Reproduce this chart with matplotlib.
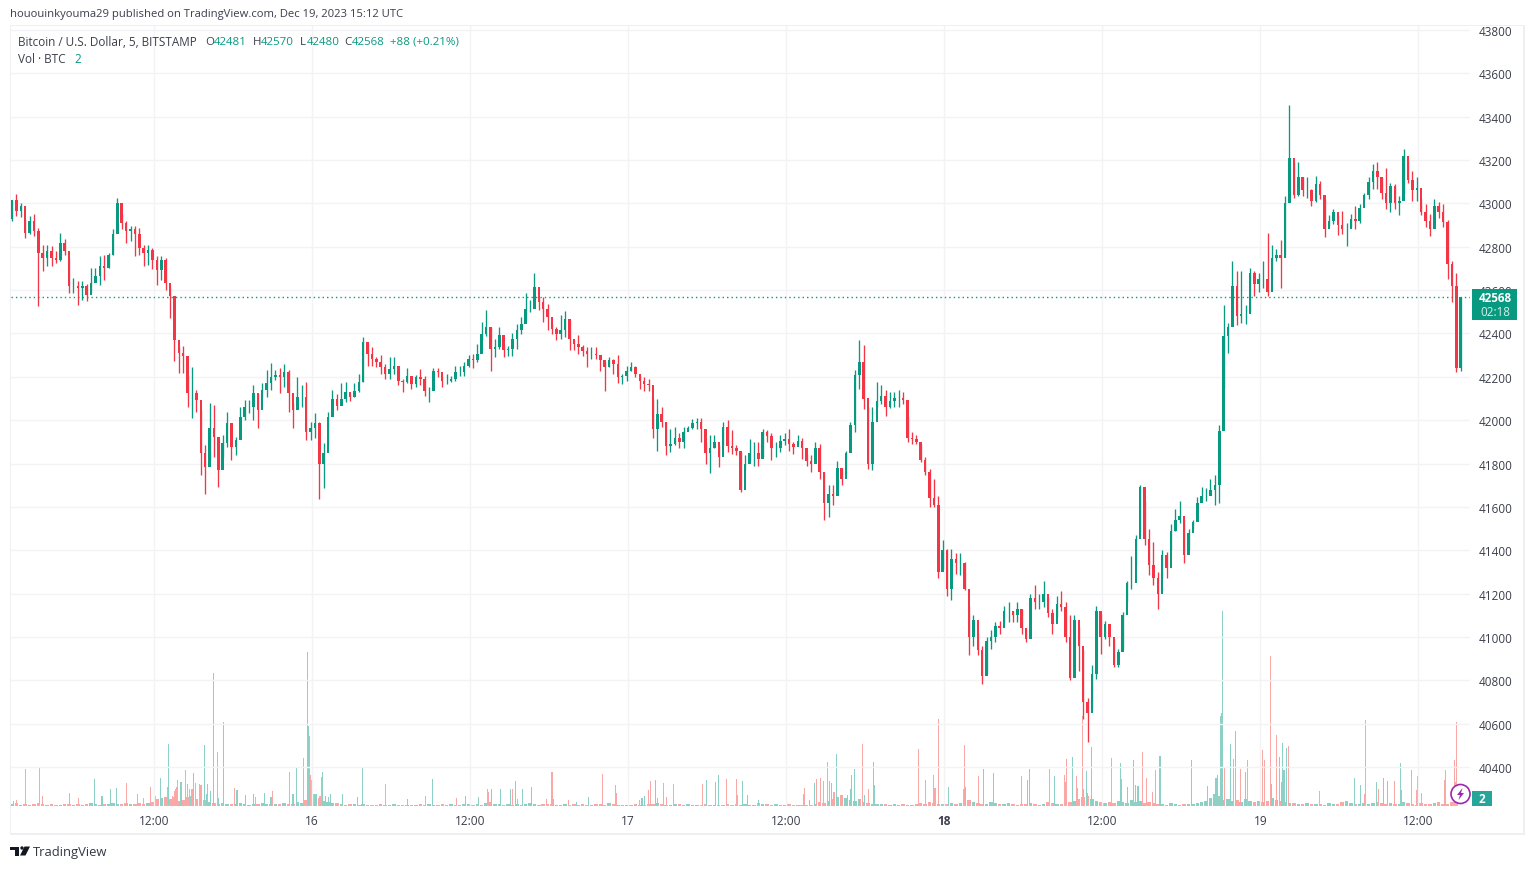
import matplotlib
matplotlib.use("Agg")
import matplotlib.pyplot as plt
from matplotlib.patches import Rectangle, Circle, Polygon
from matplotlib.transforms import IdentityTransform

# ---- data: one entry per 20 minutes of the 5-minute chart (prices)
first_open = 42930
highs = [43018,43042,43003,42926,42944,42950,42887,42810,42810,42803,42780,42864,42834,42749,42656,42641,42641,42630,42702,42702,
 42759,42764,42769,42880,43023,42949,42918,42895,42895,42887,42806,42810,42795,42756,42759,42749,42614,42571,42343,42343,
 42209,42244,42139,42047,41885,42078,42070,41893,41931,42039,41962,41923,42062,42093,42093,42163,42124,42170,42232,42263,
 42232,42240,42260,42232,42078,42201,42163,42178,41993,42032,41993,41893,42040,42140,42121,42172,42175,42121,42172,42214,
 42384,42353,42337,42291,42299,42260,42291,42291,42221,42188,42240,42198,42209,42234,42206,42152,42240,42240,42206,42214,
 42206,42252,42252,42268,42299,42306,42353,42453,42507,42430,42376,42430,42345,42342,42404,42445,42476,42589,42554,42680,
 42569,42569,42538,42445,42430,42484,42503,42461,42376,42391,42345,42337,42337,42337,42299,42268,42291,42283,42299,42214,
 42252,42268,42252,42206,42198,42191,42100,42100,42060,41990,41960,41970,41940,41970,41975,42005,42010,42010,41900,41930,
 41930,41885,41990,42000,41955,41885,41855,41840,41915,41900,41900,41960,41955,41940,41900,41930,41940,41960,41900,41930,
 41920,41845,41838,41900,41890,41760,41700,41700,41810,41775,41860,41990,42230,42370,42345,42060,42060,42175,42160,42140,
 42130,42130,42140,42130,42015,41945,41930,41890,41830,41775,41730,41650,41445,41405,41405,41385,41385,41345,41145,41100,
 41020,40960,41000,41030,41070,41075,41145,41160,41120,41160,41130,41040,41200,41240,41200,41260,41185,41130,41190,41210,
 41160,41100,41100,41045,40940,40720,40870,41145,41105,41075,41045,40990,40945,41115,41260,41375,41470,41700,41625,41500,
 41440,41300,41400,41390,41520,41590,41625,41540,41500,41540,41645,41690,41685,41730,41745,41980,42530,42450,42735,42690,
 42690,42530,42700,42690,42680,42735,42865,42810,42790,42830,43035,43455,43190,43190,43120,43120,43065,43125,43105,43020,
 42945,42975,42945,42965,42910,42950,42990,42995,43050,43120,43180,43190,43120,43165,43095,43090,43035,43250,43195,43150,
 43120,43020,42995,42950,43020,43005,42995,42925,42735,42680,42570]
lows = [42918,42941,42938,42841,42857,42849,42528,42687,42713,42713,42726,42733,42764,42587,42587,42533,42556,42548,42587,42648,
 42625,42648,42702,42760,42911,42880,42818,42826,42759,42764,42713,42718,42698,42625,42648,42602,42471,42271,42217,42217,
 42062,42008,42040,41746,41661,41816,41831,41692,41831,41877,41816,41839,41923,41999,42031,41999,41962,42109,42109,42139,
 42186,42124,42155,42039,41962,42062,42062,41908,41908,41916,41638,41685,41885,42067,42048,42075,42082,42090,42106,42129,
 42175,42252,42252,42245,42214,42191,42191,42214,42160,42129,42172,42144,42152,42160,42113,42082,42152,42198,42152,42167,
 42175,42183,42206,42206,42245,42240,42270,42368,42388,42229,42291,42330,42291,42298,42298,42330,42399,42461,42500,42569,
 42507,42453,42415,42399,42368,42376,42384,42322,42322,42306,42298,42245,42283,42283,42229,42136,42245,42214,42172,42167,
 42183,42229,42198,42144,42136,42136,41920,41857,41970,41840,41855,41885,41870,41870,41955,41960,41960,41900,41800,41755,
 41870,41785,41885,41855,41845,41840,41670,41770,41810,41790,41790,41830,41900,41815,41830,41855,41885,41860,41845,41885,
 41820,41790,41760,41808,41730,41540,41555,41610,41670,41700,41745,41885,41945,42145,42050,41776,41770,42060,42075,42020,
 42055,42060,42060,42075,41900,41890,41890,41805,41745,41600,41600,41270,41315,41190,41170,41290,41285,41215,40915,40960,
 40915,40785,40835,40945,40975,41015,41070,41070,41070,41070,41015,40975,41000,41130,41130,41140,41090,41015,41090,41120,
 40975,40800,40930,40845,40620,40515,40670,40805,40920,40990,40960,40860,40860,40945,41160,41220,41330,41485,41425,41285,
 41240,41130,41270,41270,41400,41490,41525,41340,41400,41500,41575,41630,41625,41655,41610,41620,42150,42310,42465,42440,
 42450,42445,42500,42575,42590,42610,42575,42695,42735,42610,42760,43125,43025,43035,43035,43025,42990,43005,43020,42845,
 42895,42905,42855,42860,42805,42890,42880,42910,43020,43020,43065,43065,43020,42975,42960,42975,42945,43050,43095,43010,
 43010,42945,42890,42850,42910,42935,42890,42650,42545,42220,42225]
closes = [43015,42965,42988,42864,42918,42872,42772,42749,42780,42749,42741,42818,42780,42618,42618,42610,42618,42579,42633,42664,
 42710,42702,42764,42857,43003,42911,42872,42880,42857,42795,42772,42787,42741,42695,42741,42633,42571,42371,42309,42294,
 42124,42124,42093,41847,41785,41962,41924,41769,41893,41985,41877,41908,42016,42062,42062,42124,42047,42139,42170,42201,
 42209,42201,42224,42124,42047,42109,42109,41947,41962,41985,41800,41847,42016,42098,42067,42098,42129,42106,42136,42175,
 42360,42306,42283,42268,42245,42214,42237,42252,42183,42175,42206,42167,42198,42191,42136,42136,42229,42221,42183,42183,
 42190,42221,42221,42252,42283,42276,42306,42399,42430,42330,42337,42391,42322,42330,42376,42415,42445,42515,42515,42615,
 42546,42515,42476,42422,42399,42415,42469,42376,42353,42337,42320,42306,42306,42299,42276,42245,42276,42260,42198,42206,
 42229,42245,42214,42183,42167,42160,41960,42030,41990,41880,41890,41920,41900,41945,41965,41985,41990,41960,41850,41870,
 41900,41830,41970,41880,41870,41860,41680,41800,41850,41850,41820,41945,41925,41870,41870,41905,41915,41890,41875,41905,
 41870,41810,41800,41870,41760,41620,41660,41650,41780,41730,41850,41980,42210,42270,42100,41800,41990,42090,42110,42060,
 42090,42100,42100,42095,41920,41915,41900,41815,41760,41640,41610,41300,41400,41220,41360,41340,41340,41220,41000,41080,
 40940,40820,40980,41000,41050,41040,41120,41120,41100,41130,41040,40990,41180,41160,41160,41200,41110,41060,41150,41140,
 41000,40810,41080,40960,40700,40650,40830,41120,41000,41060,41000,40870,40930,41100,41250,41250,41450,41690,41450,41330,
 41270,41200,41380,41320,41490,41540,41560,41380,41480,41530,41620,41650,41650,41680,41700,41950,42390,42430,42620,42480,
 42490,42490,42680,42630,42650,42650,42590,42750,42760,42750,43000,43210,43040,43120,43060,43060,43010,43090,43040,42880,
 42920,42960,42900,42880,42880,42930,42920,42980,43040,43100,43150,43120,43050,43000,43080,43000,43010,43220,43110,43060,
 43070,42960,42920,42880,42990,42960,42915,42720,42620,42240,42568]

# volume spikes: (5-minute bar number, BTC)
up_bars = [1,75,82,90,95,135,143,154,165,175,177,178,181,184,188,193,205,213,220,230,236,256,259,269,270,271,283,286,288,290,301,315,319,360,383,413,425,437,445,454,459,465,473,493,514,525,574,576,586,588,633,641,644,666,670,680,727,731,745,747,751,761,764,765,768,777,785,786,850,853,869,885,894,925,927,950,966,979,980,984,1010,1011,1016,1022,1024,1026,1046,1075,1089,1097,1098,1101,1102,1103,1110,1115,1124,1148,1155,1157,1158,1159,1161,1223,1229,1243,1250,1253,1265,1266,1281]
up_vols = [10,54,20,34,36,56,124,48,66,122,24,44,30,266,16,168,32,22,24,26,18,24,78,308,160,140,68,20,18,24,24,18,76,14,54,20,18,34,34,34,50,34,38,14,8,18,16,20,52,16,52,48,62,50,22,12,12,46,50,46,104,22,34,62,74,22,88,42,32,38,38,74,66,52,74,60,98,70,26,118,86,54,38,92,42,40,100,92,40,56,62,180,186,390,124,150,68,44,98,48,126,72,116,56,42,48,56,50,86,32,60]
down_bars = [4,12,25,28,52,61,104,114,120,126,131,142,146,148,149,150,151,158,160,162,164,167,171,172,173,187,203,222,237,253,266,272,273,280,281,282,340,377,405,433,434,456,461,487,492,507,538,550,551,572,580,582,594,596,603,629,651,660,661,721,722,733,737,739,743,749,773,775,780,826,832,840,841,844,867,868,881,920,945,959,960,961,970,971,975,976,1002,1030,1034,1039,1042,1105,1113,1119,1126,1139,1141,1147,1152,1163,1191,1232,1233,1245,1260,1275,1280,1284,1305,1306,1314,1315,1316]
down_vols = [12,74,78,20,26,16,46,24,16,38,20,38,20,30,34,38,52,72,44,34,34,46,44,42,42,108,36,18,30,68,96,62,52,20,20,58,44,20,16,34,28,34,14,14,68,12,64,42,26,12,32,50,46,18,44,44,54,54,22,24,36,54,56,50,88,28,12,124,34,114,52,62,36,174,34,122,60,60,74,62,48,94,60,36,180,34,96,108,56,28,72,76,94,74,92,112,92,300,142,120,30,24,172,34,50,72,32,26,52,72,92,48,168]

# smaller volume, one value per 20 minutes
vol_base = [4,6,3,5,3,4,6,4,3,5,2,3,4,5,3,4,3,5,6,4,3,5,4,6,4,5,7,5,4,6,
 5,6,9,14,16,18,14,18,10,12,18,20,14,16,12,8,6,5,6,4,4,5,6,4,3,4,5,6,4,5,
 4,5,6,4,5,8,6,12,18,24,16,10,8,6,6,4,3,5,4,3,4,3,2,3,4,3,3,4,2,3,
 3,2,3,4,3,4,2,3,4,3,4,3,3,4,5,3,4,3,6,8,5,4,3,4,3,5,3,4,6,5,
 3,4,5,4,3,2,4,3,5,3,4,2,3,5,4,3,6,4,3,2,3,2,4,3,3,5,4,6,4,3,
 3,5,4,3,4,3,2,3,4,3,3,2,3,4,3,4,3,4,3,3,6,4,5,3,4,3,3,4,3,3,
 3,2,3,4,8,6,10,14,18,22,16,12,10,14,8,6,5,4,5,4,3,4,3,4,3,3,4,6,5,8,
 7,5,4,5,6,4,6,8,12,8,6,5,4,8,6,5,4,6,4,3,5,4,6,4,3,5,8,6,5,4,
 6,8,10,14,18,20,14,10,8,6,8,6,10,8,6,12,8,10,6,8,6,4,5,3,6,4,3,5,4,4,
 6,8,10,16,24,20,12,14,10,12,8,14,10,8,10,8,10,16,12,10,8,6,6,5,4,6,4,5,4,3,
 6,4,5,8,10,6,5,4,6,4,6,8,6,5,6,4,5,8,6,4,3,6,4,5,6,8,5,4,8,12,1]

price_ticks = list(range(40400, 43801, 200))
time_labels = ["12:00","16","12:00","17","12:00","18","12:00","19","12:00"]
first_time_bar = 129.4
bars_per_label = 144
last_price = 42568

GREEN = "#089981"; RED = "#f23645"
VGREEN = "#8dd1c6"; VRED = "#f9a8a6"
GRID = "#f3f3f6"; BORDER = "#eeeef3"; TXT = "#3b3f4c"

W, H = 1534, 870
plt.rcParams['font.family'] = ['Open Sans', 'DejaVu Sans']
fig = plt.figure(figsize=(W/100, H/100), dpi=100, facecolor="white")
L, R, T, B = 11, 1470, 27, 807
ax = fig.add_axes([L/W, 1-B/H, (R-L)/W, (B-T)/H])
PXB = 1.0975                     # pixels per 5-minute bar
PXP = 737/3400                   # pixels per dollar
ax.set_xlim((L-12)/PXB, (R-12)/PXB)
ax.set_ylim(40400-(B-768)/PXP, 43800+(31-T)/PXP)
ax.set_facecolor("none")
for s in ax.spines.values():
    s.set_visible(False)

# volume on its own scale (2 BTC per pixel), drawn beneath the candles
av = ax.twinx()
av.set_ylim(0, (B-T)*2)
av.axis("off")
ax.set_zorder(2); av.set_zorder(1)
n = min(len(highs), len(lows), len(closes), len(vol_base))
opens = [first_open] + closes[:n-1]
xs = [4*i for i in range(n)]
base_col = [VGREEN if closes[i] >= opens[i] else VRED for i in range(n)]
av.bar(xs, vol_base[:n], width=3.1, color=base_col, linewidth=0)
av.bar(down_bars, down_vols, width=1.0, color=VRED, linewidth=0)
av.bar(up_bars, up_vols, width=1.0, color=VGREEN, linewidth=0)

# candles
cols = [GREEN if closes[i] >= opens[i] else RED for i in range(n)]
ax.vlines(xs, lows[:n], highs[:n], colors=cols, linewidth=0.95, zorder=3)
ax.bar(xs, [abs(closes[i]-opens[i]) for i in range(n)],
       bottom=[min(closes[i], opens[i]) for i in range(n)],
       width=2.3, color=cols, linewidth=0, zorder=3)
ax.axhline(last_price, color=GREEN, linewidth=1.0, linestyle=(0, (1, 2.2)), zorder=4)

# grid and ticks
ax.set_yticks(price_ticks)
ax.yaxis.tick_right()
ax.set_xticks([first_time_bar + k*bars_per_label for k in range(len(time_labels))])
ax.set_xticklabels(time_labels)
ax.grid(True, color=GRID, linewidth=1.0, zorder=0)
ax.set_axisbelow(True)
ax.tick_params(axis="y", length=0, pad=6.6, labelsize=8.5, labelcolor=TXT)
ax.tick_params(axis="x", length=0, pad=5.5, labelsize=8.6, labelcolor=TXT)
for lab, t in zip(ax.get_xticklabels(), time_labels):
    if t == "18":
        lab.set_fontweight("bold")
    lab.set_clip_on(False)

# figure furniture in pixels
I = IdentityTransform()
def rect(x0, y0, x1, y1, color, z=5, **kw):
    fig.add_artist(Rectangle((x0, H-y1), x1-x0, y1-y0, transform=I, facecolor=color,
                             edgecolor="none", zorder=z, **kw))
def text(x, y, s, color=TXT, size=8.6, z=6, **kw):
    fig.text(x, H-y, s, transform=I, color=color, fontsize=size, va="center", zorder=z, **kw)

for box in [(9.5, 26, 11, 836), (9.5, 26, 1525, 27), (9.5, 834, 1525, 836), (1523, 26, 1525, 836)]:
    rect(*box, BORDER)

text(10, 15, "hououinkyouma29 published on TradingView.com, Dec 19, 2023 15:12 UTC", size=8.15)
text(18, 42.5, "Bitcoin / U.S. Dollar, 5, BITSTAMP", size=8.45)
for x, s, c in [(205, "O", TXT), (214, "42481", GREEN), (253, "H", TXT), (261, "42570", GREEN),
                (300, "L", TXT), (307, "42480", GREEN), (344, "C", TXT), (352, "42568", GREEN),
                (390, "+88 (+0.21%)", GREEN)]:
    text(x, 42.5, s, color=c, size=8.25)
text(18, 59.5, "Vol · BTC", size=8.45)
text(74, 59.5, "2", color=GREEN, size=8.35)

rect(1472, 290, 1517, 321, GREEN, z=7)
text(1495.5, 299, "42568", color="white", size=8.4, z=8, ha="center", fontweight="bold")
text(1495.5, 313, "02:18", color="#d5efe9", size=8.4, z=8, ha="center")

rect(1472, 792, 1492, 807, "#26a69a", z=7)
text(1482, 800, "2", color="white", size=8.4, z=8, ha="center", fontweight="bold")
fig.add_artist(Circle((1460.5, H-795), 9.5, transform=I, facecolor="white", edgecolor="#9c27b0",
                      linewidth=1.2, zorder=7))
fig.add_artist(Polygon([(1462.5, H-789), (1457, H-796), (1460, H-796), (1458.5, H-801),
                        (1464, H-794), (1461, H-794)], closed=True, transform=I,
                       facecolor="#9c27b0", edgecolor="none", zorder=8))

# TradingView logo and wordmark
LOGO = "#131722"
rect(10, 847.5, 19, 850.5, LOGO)
rect(15, 850.5, 19, 856.5, LOGO)
fig.add_artist(Circle((22, H-849), 1.7, transform=I, facecolor=LOGO, edgecolor="none", zorder=5))
fig.add_artist(Polygon([(24.5, H-847.5), (30, H-847.5), (25.5, H-856.5), (20, H-856.5)], closed=True,
                       transform=I, facecolor=LOGO, edgecolor="none", zorder=5))
text(33, 853, "TradingView", color="#333845", size=9.4)

fig.savefig("out.png", dpi=100, facecolor="white")
